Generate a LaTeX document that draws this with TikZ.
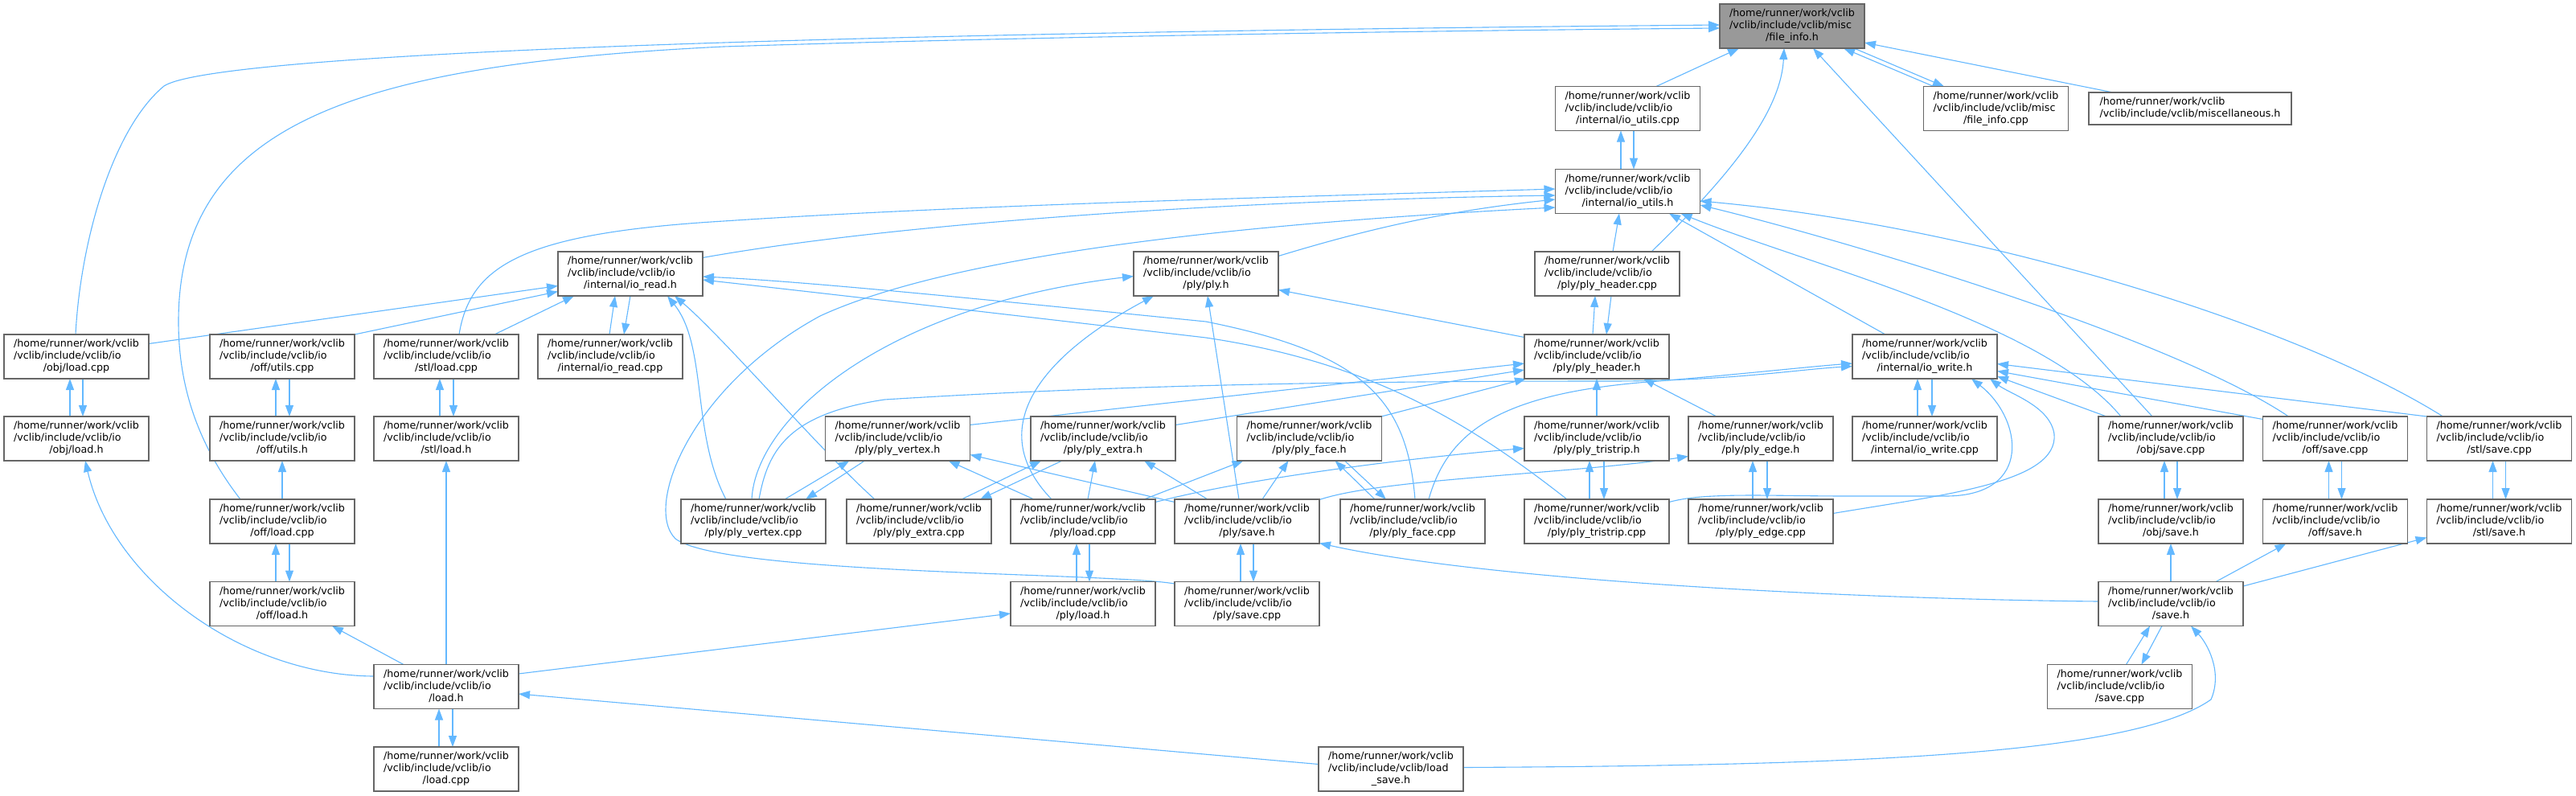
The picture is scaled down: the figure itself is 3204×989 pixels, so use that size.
\documentclass[tikz,border=0pt]{standalone}
\usepackage{fontspec}
\setmainfont{DejaVu Sans}
\usetikzlibrary{arrows.meta,calc}
\definecolor{eblue}{HTML}{63B8FF}
\definecolor{bord}{HTML}{666666}
\definecolor{gfill}{HTML}{999999}
\pgfdeclarelayer{bglayer}
\pgfdeclarelayer{edgelayer}
\pgfsetlayers{bglayer,edgelayer,main}
\newcommand\hpath{/home/runner/work/vclib}
\newcommand\threelab[3]{\begin{tabular}{@{}l@{}}#1\\#2\\\multicolumn{1}{@{}c@{}}{#3}\end{tabular}}
\newcommand\ionode[4]{\node[box] (#1) at (#2,#3) {\threelab{\hpath}{/vclib/include/vclib/io}{#4}};}
\begin{document}
\begin{tikzpicture}[x=1pt,y=-1pt,
  box/.style={draw=bord, line width=1.3pt, fill=white, minimum width=180pt, minimum height=55pt, inner sep=0pt, align=center, font=\fontsize{12.7pt}{15pt}\selectfont},
  arr/.style={draw=eblue, line width=1.1pt, -{Triangle[length=14pt,width=10pt]}}]
\begin{pgfonlayer}{bglayer}
\fill[white] (0,0) rectangle (3204,989);
\end{pgfonlayer}
\useasboundingbox (0,0) rectangle (3204,989);
% nodes
\node[box, fill=gfill] (fih) at (2229,32.5) {\threelab{\hpath}{/vclib/include/vclib/misc}{/file\_info.h}};
\ionode{ioucpp}{2024.5}{135}{/internal/io\_utils.cpp}
\node[box] (ficpp) at (2482.5,135) {\threelab{\hpath}{/vclib/include/vclib/misc}{/file\_info.cpp}};
\node[box, minimum width=252pt, minimum height=40pt] (misc) at (2724,135) {\begin{tabular}{@{}l@{}}\hpath\\/vclib/include/vclib/miscellaneous.h\end{tabular}};
\ionode{iouh}{2024.5}{238}{/internal/io\_utils.h}
\ionode{iordh}{784}{340.5}{/internal/io\_read.h}
\ionode{plyh}{1500}{340.5}{/ply/ply.h}
\ionode{phcpp}{1999}{340.5}{/ply/ply\_header.cpp}
\ionode{phh}{1986}{443.5}{/ply/ply\_header.h}
\ionode{iowh}{2394}{443.5}{/internal/io\_write.h}
\ionode{objlcpp}{95}{443.5}{/obj/load.cpp}
\ionode{offucpp}{351}{443.5}{/off/utils.cpp}
\ionode{stllcpp}{555}{443.5}{/stl/load.cpp}
\ionode{iordcpp}{759}{443.5}{/internal/io\_read.cpp}
\ionode{objlh}{95}{545.5}{/obj/load.h}
\ionode{offuh}{351}{545.5}{/off/utils.h}
\ionode{stllh}{555}{545.5}{/stl/load.h}
\ionode{pvh}{1116.5}{545.5}{/ply/ply\_vertex.h}
\ionode{pxh}{1372}{545.5}{/ply/ply\_extra.h}
\ionode{pfh}{1628.5}{545.5}{/ply/ply\_face.h}
\ionode{pth}{1986}{545.5}{/ply/ply\_tristrip.h}
\ionode{peh}{2190}{545.5}{/ply/ply\_edge.h}
\ionode{iowcpp}{2394}{545.5}{/internal/io\_write.cpp}
\ionode{objscpp}{2700}{545.5}{/obj/save.cpp}
\ionode{offscpp}{2904.5}{545.5}{/off/save.cpp}
\ionode{stlscpp}{3108.5}{545.5}{/stl/save.cpp}
\ionode{offlcpp}{351}{648.5}{/off/load.cpp}
\ionode{pvcpp}{937}{648.5}{/ply/ply\_vertex.cpp}
\ionode{pxcpp}{1143}{648.5}{/ply/ply\_extra.cpp}
\ionode{plcpp}{1347}{648.5}{/ply/load.cpp}
\ionode{psh}{1551}{648.5}{/ply/save.h}
\ionode{pfcpp}{1757}{648.5}{/ply/ply\_face.cpp}
\ionode{ptcpp}{1986}{648.5}{/ply/ply\_tristrip.cpp}
\ionode{pecpp}{2190}{648.5}{/ply/ply\_edge.cpp}
\ionode{objsh}{2700}{648.5}{/obj/save.h}
\ionode{offsh}{2904.5}{648.5}{/off/save.h}
\ionode{stlsh}{3108.5}{648.5}{/stl/save.h}
\ionode{offlh}{351}{751}{/off/load.h}
\ionode{plh}{1347}{751}{/ply/load.h}
\ionode{pscpp}{1551}{751}{/ply/save.cpp}
\ionode{saveh}{2700}{751}{/save.h}
\ionode{loadh}{555}{854}{/load.h}
\ionode{savecpp}{2636.5}{854}{/save.cpp}
\ionode{loadcpp}{555}{956.5}{/load.cpp}
\node[box] (lsh) at (1730,956.5) {\threelab{\hpath}{/vclib/include/vclib/load}{\_save.h}};
\begin{pgfonlayer}{edgelayer}
% file_info.h
\draw[arr] ($(ioucpp)+(35.5,-27.5)$) -- ($(fih)+(-66,27.5)$);
\draw[arr] ($(ficpp)+(-77.5,-27.5)$) -- ($(fih)+(64,27.5)$);
\draw[arr] ($(fih)+(77,27.5)$) -- ($(ficpp)+(-64.5,-27.5)$);
\draw[arr] ($(misc)+(-96,-20)$) -- ($(fih)+(90,20.5)$);
\draw[arr] ($(phcpp)+(55,-27.5)$) .. controls (2150,220) and (2215,140) .. ($(fih)+(-10,27.5)$);
\draw[arr] ($(objscpp)+(-23,-27.5)$) -- ($(fih)+(26,27.5)$);
\draw[arr] ($(objlcpp)+(-1,-27.5)$) .. controls (100,300) and (140,160) .. (204,107) .. controls (260,70) and (900,42) .. ($(fih)+(-90,-1.5)$);
\draw[arr] ($(offlcpp)+(-52,-27.5)$) .. controls (240,545) and (222,470) .. (222,400) .. controls (222,150) and (450,80) .. (900,58) .. controls (1300,45) and (1800,38) .. ($(fih)+(-90,2.5)$);
% io_utils.h
\draw[arr] ($(ioucpp)+(7.5,27.5)$) -- ($(iouh)+(7.5,-27.5)$);
\draw[arr] ($(iouh)+(-8.5,-27.5)$) -- ($(ioucpp)+(-8.5,27.5)$);
\draw[arr] ($(phcpp)+(7,-27.5)$) -- ($(iouh)+(-10.5,27.5)$);
\draw[arr] ($(iowh)+(-49,-27.5)$) -- ($(iouh)+(51.5,27.5)$);
\draw[arr] ($(objscpp)+(-62,-27.5)$) .. controls (2540,400) and (2250,330) .. ($(iouh)+(66,27.5)$);
\draw[arr] ($(offscpp)+(-58,-27.5)$) .. controls (2700,420) and (2300,300) .. ($(iouh)+(90,17)$);
\draw[arr] ($(stlscpp)+(-70,-27.5)$) .. controls (2850,400) and (2450,280) .. ($(iouh)+(90,12)$);
\draw[arr] ($(iordh)+(90,-20)$) .. controls (1100,280) and (1500,250) .. ($(iouh)+(-90,5)$);
\draw[arr] ($(plyh)+(90,-22)$) .. controls (1700,285) and (1800,262) .. ($(iouh)+(-90,10)$);
\draw[arr] ($(stllcpp)+(16,-27.5)$) .. controls (585,330) and (650,290) .. (900,275) .. controls (1200,255) and (1600,245) .. ($(iouh)+(-90,-3)$);
\draw[arr] ($(pscpp)+(-90,-25)$) .. controls (1380,712) and (900,715) .. (840,670) .. controls (800,630) and (860,480) .. (1020,393) .. controls (1200,310) and (1600,275) .. ($(iouh)+(-90,20)$);
% io_read.h
\draw[arr] ($(objlcpp)+(90,-16)$) -- ($(iordh)+(-90,15)$);
\draw[arr] ($(offucpp)+(90,-27.5)$) -- ($(iordh)+(-90,22)$);
\draw[arr] ($(stllcpp)+(60,-27.5)$) -- ($(iordh)+(-70,27.5)$);
\draw[arr] ($(iordcpp)+(-1,-27.5)$) -- ($(iordh)+(-19,27.5)$);
\draw[arr] ($(iordh)+(0,27.5)$) -- ($(iordcpp)+(17,-27.5)$);
\draw[arr] ($(pvcpp)+(-34,-27.5)$) .. controls (860,540) and (880,430) .. ($(iordh)+(46,27.5)$);
\draw[arr] ($(pxcpp)+(-55,-27.5)$) .. controls (1020,560) and (900,420) .. ($(iordh)+(55,27.5)$);
\draw[arr] ($(pfcpp)+(3,-27.5)$) .. controls (1750,500) and (1700,440) .. (1500,400) .. controls (1200,370) and (1000,350) .. ($(iordh)+(90,3.5)$);
\draw[arr] ($(ptcpp)+(-37,-27.5)$) .. controls (1820,520) and (1700,450) .. (1500,420) .. controls (1200,385) and (1000,362) .. ($(iordh)+(90,7.5)$);
% ply.h
\draw[arr] ($(pvcpp)+(-2,-27.5)$) .. controls (940,520) and (1100,380) .. ($(plyh)+(-90,3)$);
\draw[arr] ($(plcpp)+(-39,-27.5)$) .. controls (1220,530) and (1300,440) .. ($(plyh)+(-65,27.5)$);
\draw[arr] ($(psh)+(-10,-27.5)$) -- ($(plyh)+(2,27.5)$);
\draw[arr] ($(phh)+(-90,-24)$) -- ($(plyh)+(90,20)$);
% ply_header
\draw[arr] ($(phh)+(-5,-27.5)$) -- ($(phcpp)+(-15,27.5)$);
\draw[arr] ($(phcpp)+(5,27.5)$) -- ($(phh)+(12,-27.5)$);
\draw[arr] ($(pth)+(0,-27.5)$) -- ($(phh)+(0,27.5)$);
\draw[arr] ($(peh)+(-55,-27.5)$) -- ($(phh)+(58,27.5)$);
\draw[arr] ($(pfh)+(89.5,-27.5)$) -- ($(phh)+(-88,27.5)$);
\draw[arr] ($(pvh)+(89.5,-17)$) -- ($(phh)+(-90,8.5)$);
\draw[arr] ($(pxh)+(90,-17)$) -- ($(phh)+(-90,16.5)$);
% io_write.h
\draw[arr] ($(iowcpp)+(-9,-27.5)$) -- ($(iowh)+(-9,27.5)$);
\draw[arr] ($(iowh)+(9,27.5)$) -- ($(iowcpp)+(9,-27.5)$);
\draw[arr] ($(objscpp)+(-80,-27.5)$) -- ($(iowh)+(90,24.5)$);
\draw[arr] ($(offscpp)+(-90,-24)$) -- ($(iowh)+(90,18)$);
\draw[arr] ($(stlscpp)+(-90,-27.5)$) -- ($(iowh)+(90,9)$);
\draw[arr] ($(ptcpp)+(90,-24)$) .. controls (2120,612) and (2200,617) .. (2300,617) -- (2420,617) .. controls (2530,617) and (2515,520) .. ($(iowh)+(58,27.5)$);
\draw[arr] ($(pecpp)+(90,-10)$) .. controls (2420,615) and (2560,600) .. (2555,540) .. controls (2550,505) and (2500,490) .. ($(iowh)+(81,27.5)$);
\draw[arr] ($(pfcpp)+(20,-27.5)$) .. controls (1800,540) and (1860,490) .. (2050,475) .. controls (2150,467) and (2250,456) .. ($(iowh)+(-90,8.5)$);
\draw[arr] ($(pvcpp)+(7,-27.5)$) .. controls (955,560) and (980,515) .. (1100,497) .. controls (1400,478) and (1700,474) .. (2000,474) .. controls (2150,474) and (2230,460) .. ($(iowh)+(-90,12)$);
% ply parts
\draw[arr] ($(pvcpp)+(39,-27.5)$) -- ($(pvh)+(-60,27.5)$);
\draw[arr] ($(pvh)+(-41,27.5)$) -- ($(pvcpp)+(65,-27.5)$);
\draw[arr] ($(plcpp)+(-61,-27.5)$) -- ($(pvh)+(63,27.5)$);
\draw[arr] ($(psh)+(-90,-24)$) -- ($(pvh)+(90,20)$);
\draw[arr] ($(pxcpp)+(53,-27.5)$) -- ($(pxh)+(-77,27.5)$);
\draw[arr] ($(pxh)+(-51,27.5)$) -- ($(pxcpp)+(76,-27.5)$);
\draw[arr] ($(plcpp)+(6,-27.5)$) -- ($(pxh)+(-10,27.5)$);
\draw[arr] ($(psh)+(-49,-27.5)$) -- ($(pxh)+(51,27.5)$);
\draw[arr] ($(plcpp)+(76,-27.5)$) -- ($(pfh)+(-82,27.5)$);
\draw[arr] ($(psh)+(19,-27.5)$) -- ($(pfh)+(-26,27.5)$);
\draw[arr] ($(pfcpp)+(-47,-27.5)$) -- ($(pfh)+(32,27.5)$);
\draw[arr] ($(pfh)+(44,27.5)$) -- ($(pfcpp)+(-33,-27.5)$);
\draw[arr] ($(plcpp)+(90,-24)$) .. controls (1550,595) and (1750,570) .. ($(pth)+(-90,12)$);
\draw[arr] ($(psh)+(90,-27)$) .. controls (1720,595) and (1950,590) .. ($(peh)+(-90,22)$);
\draw[arr] ($(ptcpp)+(-9,-27.5)$) -- ($(pth)+(-9,27.5)$);
\draw[arr] ($(pth)+(9,27.5)$) -- ($(ptcpp)+(9,-27.5)$);
\draw[arr] ($(pecpp)+(-10,-27.5)$) -- ($(peh)+(-10,27.5)$);
\draw[arr] ($(peh)+(8,27.5)$) -- ($(pecpp)+(8,-27.5)$);
\draw[arr] ($(plh)+(-8,-27.5)$) -- ($(plcpp)+(-8,27.5)$);
\draw[arr] ($(plcpp)+(8,27.5)$) -- ($(plh)+(8,-27.5)$);
\draw[arr] ($(pscpp)+(-8,-27.5)$) -- ($(psh)+(-8,27.5)$);
\draw[arr] ($(psh)+(8,27.5)$) -- ($(pscpp)+(8,-27.5)$);
\draw[arr] ($(saveh)+(-90,-3)$) .. controls (2300,745) and (1850,722) .. ($(psh)+(90,27)$);
% load
\draw[arr] ($(loadh)+(-90,-13)$) .. controls (300,840) and (140,720) .. ($(objlh)+(11,27.5)$);
\draw[arr] ($(loadh)+(-53,-27.5)$) -- ($(offlh)+(62,27.5)$);
\draw[arr] ($(loadh)+(0,-27.5)$) -- ($(stllh)+(0,27.5)$);
\draw[arr] ($(loadh)+(90,-16)$) -- ($(plh)+(-90,12)$);
\draw[arr] ($(loadcpp)+(-9,-27.5)$) -- ($(loadh)+(-9,27.5)$);
\draw[arr] ($(loadh)+(8,27.5)$) -- ($(loadcpp)+(8,-27.5)$);
\draw[arr] ($(lsh)+(-90,-6)$) -- ($(loadh)+(90,9)$);
\draw[arr] ($(offlh)+(-8,-27.5)$) -- ($(offlcpp)+(-8,27.5)$);
\draw[arr] ($(offlcpp)+(9,27.5)$) -- ($(offlh)+(9,-27.5)$);
\draw[arr] ($(offlcpp)+(0,-27.5)$) -- ($(offuh)+(0,27.5)$);
\draw[arr] ($(objlh)+(-8,-27.5)$) -- ($(objlcpp)+(-8,27.5)$);
\draw[arr] ($(objlcpp)+(8,27.5)$) -- ($(objlh)+(8,-27.5)$);
\draw[arr] ($(offuh)+(-8,-27.5)$) -- ($(offucpp)+(-8,27.5)$);
\draw[arr] ($(offucpp)+(9,27.5)$) -- ($(offuh)+(9,-27.5)$);
\draw[arr] ($(stllh)+(-8,-27.5)$) -- ($(stllcpp)+(-8,27.5)$);
\draw[arr] ($(stllcpp)+(9,27.5)$) -- ($(stllh)+(9,-27.5)$);
% save
\draw[arr] ($(saveh)+(0,-27.5)$) -- ($(objsh)+(0,27.5)$);
\draw[arr] ($(saveh)+(56,-27.5)$) -- ($(offsh)+(-61,27.5)$);
\draw[arr] ($(saveh)+(90,-22)$) -- ($(stlsh)+(-90,20)$);
\draw[arr] ($(savecpp)+(8,-27.5)$) -- ($(saveh)+(-26,27.5)$);
\draw[arr] ($(saveh)+(-11,27.5)$) -- ($(savecpp)+(27,-27.5)$);
\draw[arr] ($(lsh)+(90,-2)$) .. controls (2300,952) and (2650,940) .. (2750,870) .. controls (2765,835) and (2745,800) .. ($(saveh)+(25,27.5)$);
\draw[arr] ($(objsh)+(-8,-27.5)$) -- ($(objscpp)+(-8,27.5)$);
\draw[arr] ($(objscpp)+(8,27.5)$) -- ($(objsh)+(8,-27.5)$);
\draw[arr] ($(offsh)+(-8,-27.5)$) -- ($(offscpp)+(-8,27.5)$);
\draw[arr] ($(offscpp)+(8,27.5)$) -- ($(offsh)+(8,-27.5)$);
\draw[arr] ($(stlsh)+(-8,-27.5)$) -- ($(stlscpp)+(-8,27.5)$);
\draw[arr] ($(stlscpp)+(8,27.5)$) -- ($(stlsh)+(8,-27.5)$);
\end{pgfonlayer}
\end{tikzpicture}
\end{document}
